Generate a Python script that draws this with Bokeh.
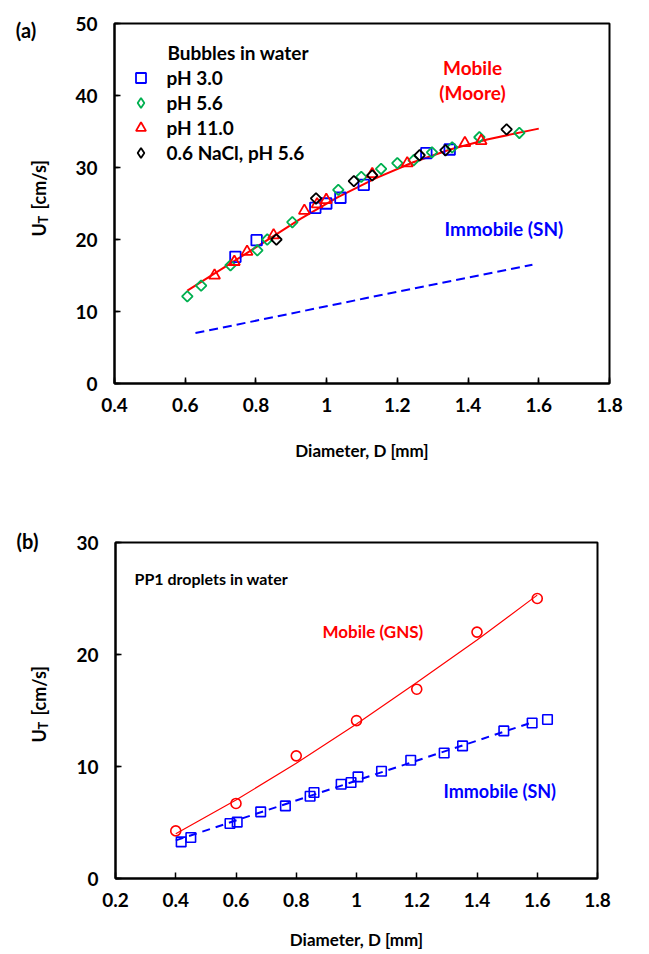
import math
from bokeh.plotting import figure
from bokeh.models import (Range1d, SingleIntervalTicker, CustomJSTickFormatter,
                          Label, Legend, LegendItem, LinearAxis, FixedTicker)
from bokeh.layouts import column, row
from bokeh.embed import file_html
from bokeh.resources import INLINE

# ---------------- data: panel (a) bubbles in water ----------------
ph30_d = [0.742, 0.802, 0.968, 0.999, 1.039, 1.105, 1.282, 1.348]
ph30_u = [17.6, 19.9, 24.4, 25.0, 25.8, 27.6, 32.0, 32.5]

ph56_d = [0.606, 0.645, 0.728, 0.804, 0.832, 0.903, 1.033, 1.098, 1.154,
          1.200, 1.246, 1.298, 1.355, 1.432, 1.545]
ph56_u = [12.1, 13.6, 16.4, 18.5, 20.0, 22.4, 26.9, 28.7, 29.8,
          30.6, 31.0, 32.1, 32.8, 34.2, 34.8]

ph110_d = [0.683, 0.739, 0.775, 0.850, 0.937, 0.973, 0.999, 1.129, 1.228, 1.391, 1.437]
ph110_u = [15.0, 16.9, 18.3, 20.6, 24.0, 24.9, 25.5, 29.1, 30.6, 33.4, 33.7]

nacl_d = [0.858, 0.970, 1.077, 1.129, 1.263, 1.336, 1.509]
nacl_u = [20.0, 25.7, 28.1, 28.9, 31.7, 32.4, 35.3]

moore_d = [0.606, 0.716, 0.822, 0.927, 1.032, 1.138, 1.243, 1.349, 1.454, 1.60]
moore_u = [12.9, 16.3, 19.6, 22.9, 25.9, 28.5, 30.7, 32.5, 33.9, 35.4]

sn_a_d = [0.629, 1.106, 1.582]
sn_a_u = [7.0, 11.8, 16.5]

# ---------------- data: panel (b) PP1 droplets in water ----------------
gns_pts_d = [0.4, 0.6, 0.8, 1.0, 1.2, 1.4, 1.6]
gns_pts_u = [4.25, 6.7, 10.95, 14.1, 16.9, 22.0, 25.0]
gns_curve_d = [0.4, 0.6, 0.8, 1.0, 1.2, 1.4, 1.6]
gns_curve_u = [4.0, 7.0, 10.3, 13.8, 17.5, 21.3, 25.3]

sn_pts_d = [0.418, 0.450, 0.580, 0.604, 0.682, 0.764, 0.846, 0.859, 0.949,
            0.982, 1.005, 1.083, 1.180, 1.291, 1.352, 1.489, 1.583, 1.634]
sn_pts_u = [3.27, 3.66, 4.91, 5.03, 5.95, 6.48, 7.35, 7.68, 8.42,
            8.57, 9.07, 9.58, 10.56, 11.21, 11.84, 13.18, 13.89, 14.20]
sn_b_d = [0.4, 1.59]
sn_b_u = [3.4, 14.0]

nan_key = [float("nan")]   # legend-key placeholder (nothing drawn in the plot)

FONT = "Lato"
RED = "#FF0000"
BLUE = "#0000FF"
GREEN = "#00B050"

SIDE_W = 60

fmt = CustomJSTickFormatter(code="return String(Number(tick.toFixed(1)));")


def style(p, xint, yint, x_minor, y_minor, title_standoff):
    p.xgrid.visible = False
    p.ygrid.visible = False
    p.outline_line_color = "black"
    p.outline_line_width = 2
    p.background_fill_color = "white"
    p.border_fill_color = "white"
    p.xaxis.ticker = SingleIntervalTicker(interval=xint, num_minor_ticks=x_minor)
    p.yaxis.ticker = SingleIntervalTicker(interval=yint, num_minor_ticks=y_minor)
    p.xaxis.formatter = fmt
    for ax in (p.xaxis, p.yaxis):
        ax.axis_line_width = 2
        ax.axis_line_color = "black"
        ax.major_tick_in = 6
        ax.major_tick_out = 0
        ax.minor_tick_in = 4
        ax.minor_tick_out = 0
        ax.major_tick_line_width = 1.5
        ax.minor_tick_line_width = 1.5
        ax.major_label_text_font = FONT
        ax.major_label_text_font_size = "19px"
        ax.major_label_text_font_style = "bold"
        ax.major_label_text_color = "black"
    p.xaxis.major_label_standoff = 14
    p.yaxis.major_label_standoff = 17
    p.xaxis.axis_label = "Diameter, D [mm]"
    p.xaxis.axis_label_text_font = FONT
    p.xaxis.axis_label_text_font_size = "17px"
    p.xaxis.axis_label_text_font_style = "bold"
    p.xaxis.axis_label_text_color = "black"
    p.xaxis.axis_label_standoff = title_standoff


def txt(p, x, y, s, color="black", size="19px", align="left", baseline="middle", angle=0.0):
    p.add_layout(Label(x=x, y=y, text=s, text_font=FONT, text_font_size=size,
                       text_font_style="bold", text_color=color, text_align=align,
                       text_baseline=baseline, angle=angle))


def side_panel(main, frame_h, top_b, bottom_b, fy, tag, tag_x, tag_standoff, center_y):
    s = figure(frame_width=SIDE_W, frame_height=frame_h, output_backend="svg",
               toolbar_location=None, title=None,
               x_range=Range1d(0, SIDE_W), y_range=main.y_range,
               x_axis_location=None, y_axis_location=None,
               min_border_left=0, min_border_right=0,
               min_border_top=top_b, min_border_bottom=bottom_b)
    s.xgrid.visible = False
    s.ygrid.visible = False
    s.outline_line_color = None
    s.background_fill_color = "white"
    s.border_fill_color = "white"
    # panel tag "(a)" / "(b)" drawn as the single label of an invisible top axis
    tag_axis = LinearAxis(ticker=FixedTicker(ticks=[tag_x]),
                          formatter=CustomJSTickFormatter(code="return '%s';" % tag),
                          axis_line_color=None, major_tick_line_color=None,
                          minor_tick_line_color=None, major_label_standoff=tag_standoff,
                          major_label_text_font=FONT, major_label_text_font_size="20px",
                          major_label_text_font_style="bold", major_label_text_color="black")
    s.add_layout(tag_axis, "above")
    # "U_T [cm/s]" rotated, built from pieces (subscript T)
    txt(s, 38, fy(center_y + 39), "U", size="18px", baseline="alphabetic", angle=math.pi / 2)
    txt(s, 42, fy(center_y + 26), "T", size="13px", baseline="alphabetic", angle=math.pi / 2)
    txt(s, 38, fy(center_y + 12), "[cm/s]", size="18px", baseline="alphabetic", angle=math.pi / 2)
    return s


# ---------------- panel (a) ----------------
FA_W, FA_H = 495, 360
TA, BA = 23, 104
pa = figure(frame_width=FA_W, frame_height=FA_H, output_backend="svg",
            toolbar_location=None, title=None,
            x_range=Range1d(0.4, 1.8), y_range=Range1d(0, 50),
            min_border_left=114 - SIDE_W, min_border_right=649 - 114 - FA_W,
            min_border_top=TA, min_border_bottom=BA)
style(pa, 0.2, 10, 1, 1, 25)


def xa(px):
    return 0.4 + (px - 114) * 1.4 / FA_W


def ya(py):
    return (383 - py) * 50 / FA_H


pa.line(moore_d, moore_u, line_color=RED, line_width=2)
pa.line(sn_a_d, sn_a_u, line_color=BLUE, line_width=2, line_dash="9 5")

r30 = pa.scatter(ph30_d, ph30_u, marker="square", size=10.5, line_color=BLUE,
                 line_width=1.8, fill_color=None)
pa.scatter(ph56_d, ph56_u, marker="square", angle=math.pi / 4, size=7.5,
           line_color=GREEN, line_width=1.8, fill_color=None)
r110 = pa.scatter(ph110_d, ph110_u, marker="triangle", size=11, line_color=RED,
                  line_width=1.8, fill_color=None)
pa.scatter(nacl_d, nacl_u, marker="square", angle=math.pi / 4, size=7.5,
           line_color="black", line_width=1.8, fill_color=None)
# legend keys for the diamond series (legend glyphs cannot be rotated)
k56 = pa.scatter(nan_key, nan_key, marker="diamond", size=12, line_color=GREEN,
                 line_width=1.8, fill_color=None)
kna = pa.scatter(nan_key, nan_key, marker="diamond", size=12, line_color="black",
                 line_width=1.8, fill_color=None)

legend = Legend(items=[LegendItem(label="pH 3.0", renderers=[r30]),
                       LegendItem(label="pH 5.6", renderers=[k56]),
                       LegendItem(label="pH 11.0", renderers=[r110]),
                       LegendItem(label="0.6 NaCl, pH 5.6", renderers=[kna])],
                location=(13.5, 218.5), glyph_width=25, glyph_height=25,
                label_height=25, spacing=0, padding=0, margin=0, label_standoff=14,
                label_text_font=FONT, label_text_font_size="19px",
                label_text_font_style="bold", label_text_color="black",
                border_line_color=None, background_fill_alpha=0)
pa.add_layout(legend)

txt(pa, xa(167), ya(52), "Bubbles in water")
txt(pa, xa(472), ya(67), "Mobile", color=RED, align="center")
txt(pa, xa(472), ya(92), "(Moore)", color=RED, align="center")
txt(pa, xa(444), ya(228), "Immobile (SN)", color=BLUE)

side_a = side_panel(pa, FA_H, TA, BA, ya, "(a)", 25.5, -24, 197)

# ---------------- panel (b) ----------------
FB_W, FB_H = 482, 336
TB, BB = 55, 76
pb = figure(frame_width=FB_W, frame_height=FB_H, output_backend="svg",
            toolbar_location=None, title=None,
            x_range=Range1d(0.2, 1.8), y_range=Range1d(0, 30),
            min_border_left=115 - SIDE_W, min_border_right=649 - 115 - FB_W,
            min_border_top=TB, min_border_bottom=BB)
style(pb, 0.2, 10, 0, 1, 19)


def xb(px):
    return 0.2 + (px - 115) * 1.6 / FB_W


def yb(py):
    return (878 - py) * 30 / FB_H


pb.line(gns_curve_d, gns_curve_u, line_color=RED, line_width=1.2)
pb.line(sn_b_d, sn_b_u, line_color=BLUE, line_width=2, line_dash="8 6")
pb.scatter(gns_pts_d, gns_pts_u, marker="circle", size=10, line_color=RED,
           line_width=1.6, fill_color=None)
pb.scatter(sn_pts_d, sn_pts_u, marker="square", size=9.5, line_color=BLUE,
           line_width=1.6, fill_color=None)

txt(pb, xb(134), yb(578), "PP1 droplets in water", size="16px")
txt(pb, xb(322), yb(631), "Mobile (GNS)", color=RED, size="17px")
txt(pb, xb(443), yb(790), "Immobile (SN)", color=BLUE, size="18px")

side_b = side_panel(pb, FB_H, TB, BB, yb, "(b)", 27, -16, 703)

layout = column(row(side_a, pa, spacing=0), row(side_b, pb, spacing=0), spacing=0)
open("out.html", "w").write(file_html(layout, INLINE))
